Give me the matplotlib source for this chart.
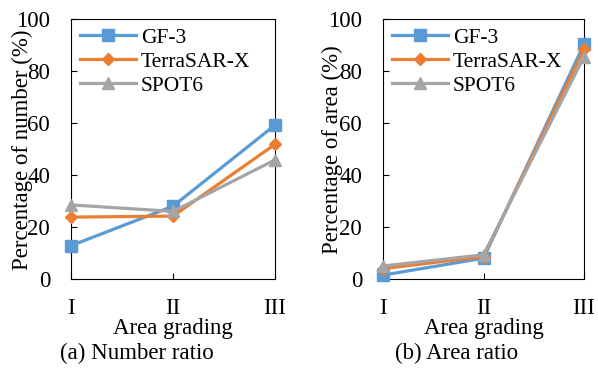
import matplotlib
matplotlib.use("Agg")
import matplotlib.pyplot as plt

plt.rcParams['font.family'] = ['Liberation Serif', 'DejaVu Serif']

grades = ["I", "II", "III"]
series = ["GF-3", "TerraSAR-X", "SPOT6"]
colors = ["#5B9BD5", "#ED7D31", "#A5A5A5"]
markers = ["s", "D", "^"]
msizes = [8, 6, 9]

# (a) percentage of number
number_gf3 = [12.8, 28.0, 59.2]
number_tsx = [23.8, 24.2, 51.8]
number_spot = [28.5, 26.0, 45.8]

# (b) percentage of area
area_gf3 = [1.5, 8.0, 90.3]
area_tsx = [4.0, 8.6, 88.3]
area_spot = [5.0, 9.3, 85.5]

fs = 16.5
fig = plt.figure(figsize=(5.98, 3.68), dpi=100)
W, H = 598, 368


def make_ax(x0, x1, y0, y1):
    return fig.add_axes([x0 / W, 1 - y1 / H, (x1 - x0) / W, (y1 - y0) / H])


ax1 = make_ax(71, 275, 19, 279)
ax2 = make_ax(383, 584, 19, 279)

panels = [
    (ax1, [number_gf3, number_tsx, number_spot], "Percentage of number (%)", 22, "(a) Number ratio", 137),
    (ax2, [area_gf3, area_tsx, area_spot], "Percentage of area (%)", 332, "(b) Area ratio", 457),
]

for ax, data, ylab, ylx, cap, capx in panels:
    x = list(range(len(grades)))
    for vals, name, c, m, ms in zip(data, series, colors, markers, msizes):
        ax.plot(x, vals, color=c, marker=m, markersize=ms, linewidth=2.3,
                label=name, clip_on=False, zorder=3)
    ax.set_xlim(0, 2)
    ax.set_ylim(0, 100)
    ax.set_yticks(range(0, 101, 20))
    ax.set_xticks(x)
    ax.set_xticklabels(grades)
    ax.tick_params(axis='both', direction='in', length=4, width=0.8,
                   labelsize=fs, colors='black')
    ax.tick_params(axis='x', pad=14)
    ax.tick_params(axis='y', pad=15)
    for sp in ax.spines.values():
        sp.set_linewidth(0.8)
        sp.set_color('black')
    ax.set_xlabel("Area grading", fontsize=fs, labelpad=-1)
    # y label overlaps the tick labels in the original
    fig.text(ylx / W, 1 - 150 / H, ylab, rotation=90, fontsize=fs,
             ha='center', va='center')
    fig.text(capx / W, 1 - 353 / H, cap, fontsize=fs, ha='center', va='center')
    ax.legend(loc='upper left', bbox_to_anchor=(0.0, 1.0), frameon=False,
              fontsize=15.5, handlelength=2.6, handletextpad=0.25,
              labelspacing=0.18, borderaxespad=0.2, borderpad=0.2)

fig.savefig("out.png", dpi=100)
